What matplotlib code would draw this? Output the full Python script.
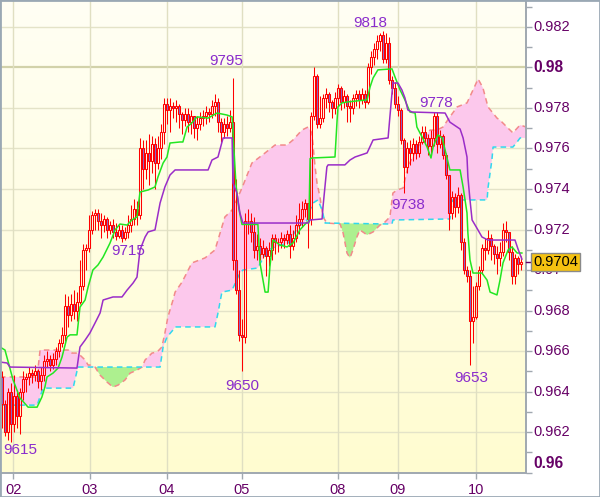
import numpy as np
import matplotlib
matplotlib.use("Agg")
import matplotlib.pyplot as plt
import matplotlib.transforms as mtrans
from matplotlib.colors import LinearSegmentedColormap
from matplotlib.patches import Rectangle

plt.rcParams['font.family'] = ['Liberation Sans', 'DejaVu Sans']
plt.rcParams['lines.scale_dashes'] = False

# ---------------- data (prices in pips: 9704 -> 0.9704) ----------------
day_labels = ["02", "03", "04", "05", "08", "09", "10"]
day_pos = [3.7, 29.3, 55, 80, 112, 132, 158]

first_open = 9647
close_pips = [9634, 9620, 9640, 9624, 9638, 9628, 9640, 9646, 9647, 9649,
              9648, 9650, 9645, 9648, 9655, 9656, 9653, 9656, 9660, 9664,
              9668, 9682, 9678, 9683, 9680, 9684, 9692, 9710, 9711, 9720,
              9727, 9728, 9724, 9722, 9725, 9720, 9722, 9719, 9717, 9720,
              9716, 9719, 9722, 9725, 9730, 9727, 9760, 9750, 9758, 9754,
              9762, 9753, 9760, 9768, 9782, 9779, 9781, 9780, 9781, 9777,
              9774, 9777, 9773, 9776, 9770, 9772, 9775, 9776, 9778, 9777,
              9781, 9783, 9773, 9768, 9772, 9770, 9773, 9705, 9690, 9668,
              9667, 9724, 9724, 9719, 9710, 9712, 9708, 9711, 9707, 9710,
              9716, 9714, 9714, 9716, 9715, 9718, 9712, 9716, 9722, 9725,
              9730, 9733, 9725, 9776, 9796, 9772, 9775, 9785, 9787, 9783,
              9780, 9785, 9790, 9783, 9786, 9781, 9780, 9785, 9787, 9784,
              9787, 9783, 9800, 9805, 9809, 9813, 9816, 9804, 9812, 9794,
              9790, 9782, 9779, 9764, 9751, 9760, 9758, 9762, 9758, 9763,
              9768, 9765, 9761, 9765, 9776, 9762, 9766, 9757, 9747, 9728,
              9736, 9731, 9737, 9714, 9700, 9697, 9675, 9677, 9692, 9700,
              9711, 9710, 9716, 9712, 9708, 9706, 9709, 9720, 9719, 9709,
              9697, 9706, 9703, 9704]
high_pips = [9650, 9636, 9642, 9644, 9648, 9641, 9642, 9650, 9649, 9652,
             9651, 9653, 9651, 9652, 9658, 9660, 9658, 9659, 9662, 9666,
             9672, 9688, 9687, 9688, 9690, 9689, 9705, 9713, 9713, 9727,
             9729, 9730, 9730, 9728, 9727, 9726, 9724, 9725, 9723, 9722,
             9722, 9721, 9727, 9732, 9735, 9734, 9765, 9764, 9764, 9767,
             9766, 9765, 9766, 9772, 9785, 9785, 9785, 9783, 9784, 9782,
             9778, 9780, 9780, 9779, 9776, 9776, 9778, 9779, 9781, 9780,
             9784, 9787, 9785, 9775, 9775, 9776, 9779, 9795, 9745, 9700,
             9676, 9728, 9730, 9728, 9726, 9718, 9716, 9715, 9712, 9714,
             9718, 9718, 9716, 9719, 9718, 9720, 9722, 9720, 9727, 9733,
             9734, 9735, 9732, 9778, 9800, 9797, 9786, 9787, 9790, 9788,
             9784, 9788, 9792, 9791, 9789, 9787, 9784, 9787, 9789, 9789,
             9790, 9789, 9802, 9808, 9812, 9816, 9817, 9818, 9817, 9815,
             9796, 9793, 9786, 9780, 9765, 9763, 9764, 9765, 9764, 9766,
             9771, 9771, 9767, 9769, 9778, 9778, 9769, 9767, 9758, 9740,
             9739, 9738, 9741, 9738, 9716, 9702, 9700, 9692, 9694, 9702,
             9713, 9716, 9720, 9718, 9713, 9712, 9714, 9723, 9724, 9718,
             9712, 9708, 9707, 9707]
low_pips = [9622, 9618, 9616, 9615, 9620, 9622, 9619, 9636, 9640, 9643,
            9644, 9645, 9642, 9641, 9645, 9652, 9650, 9651, 9653, 9657,
            9662, 9665, 9672, 9675, 9676, 9675, 9683, 9690, 9700, 9709,
            9718, 9720, 9720, 9716, 9719, 9716, 9718, 9716, 9715, 9716,
            9714, 9715, 9716, 9719, 9722, 9722, 9725, 9740, 9745, 9742,
            9748, 9740, 9750, 9755, 9762, 9772, 9768, 9775, 9773, 9770,
            9767, 9771, 9768, 9767, 9765, 9764, 9769, 9771, 9772, 9773,
            9775, 9776, 9768, 9763, 9765, 9766, 9768, 9700, 9688, 9665,
            9650, 9664, 9718, 9714, 9706, 9705, 9705, 9706, 9697, 9702,
            9705, 9708, 9709, 9711, 9711, 9713, 9706, 9710, 9714, 9718,
            9721, 9726, 9711, 9722, 9774, 9770, 9770, 9773, 9780, 9778,
            9775, 9777, 9781, 9779, 9780, 9773, 9773, 9777, 9781, 9780,
            9782, 9780, 9782, 9797, 9801, 9804, 9808, 9802, 9802, 9792,
            9787, 9780, 9776, 9762, 9738, 9748, 9752, 9754, 9755, 9756,
            9762, 9762, 9757, 9758, 9761, 9758, 9760, 9755, 9745, 9720,
            9725, 9726, 9728, 9710, 9698, 9694, 9653, 9664, 9676, 9690,
            9698, 9705, 9708, 9705, 9703, 9698, 9702, 9707, 9714, 9705,
            9693, 9693, 9698, 9700]

tenkan_pts = [(-0.7, 9662), (1, 9660.5), (3.7, 9645.7), (6, 9636.8), (8.7, 9632.3),
              (11.7, 9632.3), (13.3, 9637.3), (14.3, 9642.2), (15, 9647.2), (17, 9649.1),
              (18.7, 9651.6), (20, 9657), (21.7, 9666.9), (22.7, 9668), (25, 9668),
              (26, 9681.7), (27.7, 9685.2), (28.7, 9691.6), (30.3, 9700), (32, 9702.5),
              (33.7, 9706.4), (36, 9713.3), (37.7, 9719.8), (39.3, 9722.7), (41.7, 9722.2),
              (43.3, 9724.7), (45, 9726.2), (46, 9738.5), (48.7, 9739.5), (51, 9741),
              (52, 9746), (53.7, 9752.8), (55, 9755.8), (56, 9762.7), (59.3, 9763.2),
              (60.3, 9763.2), (61.7, 9770.6), (63.3, 9772.6), (65, 9775.6), (68.7, 9775),
              (71.7, 9777.5), (75, 9776.5), (76.7, 9775.6), (78, 9742), (79, 9730),
              (80, 9722.5), (85.3, 9722.5), (86, 9703.5), (87.7, 9689.1), (88.7, 9689.1),
              (89.3, 9701.5), (90.3, 9714.8), (92.7, 9712.3), (95, 9711.4), (97, 9713.3),
              (99.3, 9719.8), (101.7, 9723.7), (102.3, 9723.2), (102.7, 9755), (103.3, 9755.3),
              (111, 9755.8), (111.7, 9774), (112, 9780.5), (113.3, 9782.5), (115.3, 9783),
              (121.7, 9784), (122.7, 9790.4), (123.7, 9794.8), (125.3, 9798.8), (130, 9799.3),
              (131, 9795.3), (132.7, 9788.9), (134.3, 9784), (136, 9778), (137.7, 9777.5),
              (138.3, 9770.6), (140, 9765.7), (141.7, 9760.7), (143, 9755.3), (143.7, 9760.7),
              (145.3, 9766.7), (146.7, 9765.2), (147.7, 9759.3), (149.3, 9749.4), (152.7, 9749.4),
              (153.7, 9741), (155, 9728.2), (155.3, 9718.3), (156, 9705), (157, 9698.5),
              (160, 9698.5), (161.7, 9695), (162.7, 9689.1), (165, 9687.7), (166, 9695),
              (167, 9703.5), (168.7, 9709.9), (170, 9711.4), (171.7, 9708.4), (173.3, 9708.4)]

kijun_pts = [(-0.7, 9654.6), (1.7, 9654.1), (2.7, 9652.1), (25, 9651.6), (26, 9662),
             (27.7, 9665.4), (29.3, 9668.9), (31, 9673.8), (32.7, 9678.8), (33.7, 9685.2),
             (37, 9686.7), (40, 9686.7), (41.7, 9690.1), (43.7, 9693.6), (45, 9696.5),
             (46, 9709.9), (47.7, 9716.3), (48.7, 9718.8), (51, 9719.8), (52.7, 9733.1),
             (54.3, 9741), (56, 9746.9), (57.7, 9749.4), (68.7, 9749.4), (70, 9754.3),
             (72, 9755.8), (73.7, 9765.2), (76.7, 9765.2), (77, 9743), (78.3, 9738),
             (79.3, 9728.2), (80.3, 9723.2), (102, 9723.2), (102.7, 9724.7), (106.7, 9725.2),
             (107, 9731.1), (108.3, 9750.9), (108.7, 9751.9), (114.3, 9751.9), (116, 9754.3),
             (117.7, 9755.8), (121.7, 9757.8), (123.7, 9764.2), (128.7, 9765.2), (129.3, 9775.6),
             (130.3, 9792.3), (132, 9792.3), (133.3, 9788.9), (134.3, 9785), (135.3, 9779),
             (136.7, 9778), (147.7, 9777.5), (149.3, 9773), (152.7, 9769.6), (153.7, 9765.2),
             (155, 9755.8), (155.3, 9745.9), (156, 9734.6), (156.7, 9724.7), (158.3, 9720.7),
             (160, 9716.3), (162, 9714.8), (171, 9714.8), (172, 9710.4), (173.3, 9705.4)]

span_a_pts = [(-0.7, 9647.2), (11.7, 9647.2), (12.7, 9660.5), (22.7, 9660.5), (23.3, 9659),
              (25, 9659), (26, 9658), (27.7, 9655.6), (28.7, 9653.1), (29.3, 9653.1),
              (31, 9652.1), (32.7, 9648.1), (35, 9644.7), (37, 9642.2), (38.7, 9643.2),
              (41, 9645.7), (42.7, 9649.1), (45, 9650.6), (46.7, 9652.1), (47.7, 9655.6),
              (50, 9659), (51.7, 9659.5), (53.3, 9662), (54.3, 9668.9), (55.3, 9676.8),
              (57, 9685.2), (57.7, 9689.1), (60, 9694), (63.3, 9703.5), (67.7, 9706),
              (71, 9709.9), (72.7, 9718.3), (74.3, 9726.2), (76.7, 9729.6), (80, 9740.5),
              (83.3, 9752.8), (87.7, 9757.8), (91, 9761.7), (95, 9761.7), (97, 9764.2),
              (100, 9769.1), (102, 9770.6), (103.3, 9767.7), (104.3, 9751.9), (105, 9743),
              (106, 9736), (107, 9726.2), (108.3, 9723.2), (112.7, 9722.7), (113.7, 9718.3),
              (115, 9708.4), (116, 9706), (117, 9710), (118.3, 9716.3), (119.3, 9719.8),
              (121.7, 9717.3), (123.7, 9718.8), (126, 9722.2), (127, 9722.7), (129.3, 9726.2),
              (130.3, 9738), (131.7, 9739.5), (133.7, 9740.5), (135.3, 9751), (138.3, 9760.2),
              (140.3, 9764.2), (142.7, 9769.1), (145, 9769.1), (147, 9770.6), (149.3, 9775.6),
              (151.7, 9780.5), (155, 9782.5), (156.7, 9787.9), (158.7, 9794.3), (160.3, 9790),
              (162, 9780.5), (165, 9775), (166, 9774), (168.3, 9770.6), (170.3, 9767.7),
              (172.7, 9771.6), (174.7, 9770.6)]

span_b_pts = [(-0.7, 9633.3), (11.7, 9633.3), (13.7, 9641.7), (23.7, 9641.7), (25.3, 9652.1),
              (52.7, 9652.1), (53.7, 9662), (55, 9666.9), (57, 9670.4), (57.7, 9671.9),
              (71, 9671.9), (72, 9678.8), (73.3, 9689.1), (76.7, 9690.1), (79.3, 9698.5),
              (80.3, 9700), (85.3, 9701), (86.7, 9705), (88.7, 9709.9), (91, 9711.4),
              (95.3, 9713.3), (98.7, 9721.2), (101.7, 9724.7), (102.7, 9729.6), (103.7, 9733.1),
              (105.3, 9734.6), (106.7, 9729.6), (107.7, 9723.2), (130, 9722.7), (130.3, 9724.7),
              (149.3, 9725.2), (150, 9733.6), (150.3, 9734.6), (161.7, 9734.6), (162, 9740.5),
              (163.3, 9754.3), (163.7, 9760.7), (170.3, 9760.7), (171.7, 9763.2), (172.7, 9765.2),
              (174.7, 9765.2)]

extreme_labels = ["9615", "9715", "9795", "9650", "9818", "9778", "9738", "9653"]
extreme_text_pos = [(6, 9611), (42, 9709.4), (74.7, 9803.2), (80, 9642.7),
                    (122.7, 9822), (144.7, 9782.5), (135.3, 9732.1), (156.3, 9646.7)]

last_price_label = "0.9704"
last_price_pips = 9704
y_tick_pips = list(range(9600, 9821, 20))
y_tick_labels = ["0.96", "0.962", "0.964", "0.966", "0.968", "0.97", "0.972",
                 "0.974", "0.976", "0.978", "0.98", "0.982"]

# ---------------- figure ----------------
fig = plt.figure(figsize=(6, 4.97), dpi=100)
fig.patch.set_facecolor('white')
ax = fig.add_axes([1 / 600, 24 / 497, 525 / 600, 472 / 497])

grad = np.linspace(0, 1, 256).reshape(-1, 1)
cmap = LinearSegmentedColormap.from_list('bg', ['#fffcd0', '#fffff4'])
ax.imshow(grad, extent=(0, 1, 0, 1), transform=ax.transAxes, aspect='auto',
          cmap=cmap, origin='lower', zorder=0, interpolation='bilinear')

# grid
for p in y_tick_pips[1:]:
    major = p in (9800, 9600)
    ax.axhline(p, color='#d2d2aa' if major else '#e4e3c8',
               lw=1.6 if major else 1.0, zorder=1)
for d in day_pos:
    ax.axvline(d, color='#e0dfc2', lw=1.0, zorder=1)

# cloud
ax_x = np.array([p[0] for p in span_a_pts]); ay = np.array([p[1] for p in span_a_pts])
bx_x = np.array([p[0] for p in span_b_pts]); by = np.array([p[1] for p in span_b_pts])
xs = np.union1d(ax_x, bx_x)
ya = np.interp(xs, ax_x, ay)
yb = np.interp(xs, bx_x, by)
ax.fill_between(xs, ya, yb, where=ya >= yb, interpolate=True, color='#fcc8ec', lw=0, zorder=2)
ax.fill_between(xs, ya, yb, where=ya < yb, interpolate=True, color='#adf08f', lw=0, zorder=2)
la, = ax.plot(ax_x, ay, color='#f28a8a', lw=1.1, zorder=2.5)
la.set_dashes([4, 3])
lb, = ax.plot(bx_x, by, color='#30d8ee', lw=1.1, zorder=2.5)
lb.set_dashes([4, 3])

# candles
c = np.array(close_pips, dtype=float)
o = np.concatenate([[first_open], c[:-1]])
h = np.array(high_pips, dtype=float)
l = np.array(low_pips, dtype=float)
idx = np.arange(len(c))
top = np.maximum(o, c)
bot = np.minimum(o, c)
h = np.maximum(h, top)
l = np.minimum(l, bot)
ax.vlines(idx, top, h, colors='#ff0000', lw=0.75, zorder=3)
ax.vlines(idx, l, bot, colors='#ff0000', lw=0.75, zorder=3)
up = c >= o
ax.bar(idx[up], (top - bot)[up], bottom=bot[up], width=0.75, facecolor='none',
       edgecolor='#ff0000', linewidth=0.75, zorder=3)
ax.bar(idx[~up], (top - bot)[~up], bottom=bot[~up], width=0.75, facecolor='#8866cc',
       edgecolor='#ff0000', linewidth=0.75, zorder=3)

# tenkan / kijun
ax.plot([p[0] for p in tenkan_pts], [p[1] for p in tenkan_pts], color='#22e622', lw=1.1, zorder=4)
ax.plot([p[0] for p in kijun_pts], [p[1] for p in kijun_pts], color='#9a2dc8', lw=1.1, zorder=4)

# extreme labels
for lab, (xp, yp) in zip(extreme_labels, extreme_text_pos):
    ax.text(xp, yp, lab, ha='center', va='center', color='#8a2ccc', fontsize=11, zorder=6)

ax.set_xlim(-0.33, 174.67)
ax.set_ylim(9599.8, 9832.8)

# axes styling
for s in ('left', 'top'):
    ax.spines[s].set_visible(False)
for s in ('right', 'bottom'):
    ax.spines[s].set_color('#a0a8b0')
    ax.spines[s].set_linewidth(1.4)
    ax.spines[s].set_zorder(7)

ax.yaxis.tick_right()
ax.set_yticks(y_tick_pips)
ax.set_yticks(list(range(9610, 9831, 20)), minor=True)
ax.set_yticklabels([])
ax.tick_params(axis='y', which='both', direction='out', length=4, width=1, color='#a0a8b0')

ax.set_xticks(day_pos)
ax.set_xticklabels(day_labels)
ax.tick_params(axis='x', direction='out', length=4, width=1, color='#a0a8b0',
               labelcolor='#660066', labelsize=10.5, pad=3)

blend = mtrans.blended_transform_factory(ax.transAxes, ax.transData)
for p, lab in zip(y_tick_pips, y_tick_labels):
    bold = lab in ('0.98', '0.96')
    yy = p + 4.7 if lab == '0.96' else p
    ax.text(1.0133, yy, lab, transform=blend, ha='left', va='center',
            fontsize=11.2 if bold else 10.5, fontweight='bold' if bold else 'normal',
            color='#660066', clip_on=False)

ax.plot([1.0, 1.012], [last_price_pips, last_price_pips], transform=blend,
        color='#660066', lw=1, clip_on=False, zorder=9)
ax.text(1.0133, last_price_pips, last_price_label, transform=blend, ha='left', va='center',
        fontsize=10.5, color='black', clip_on=False, zorder=10,
        bbox=dict(boxstyle='square,pad=0.15', fc='#f5c211', ec='#8a8a8a', lw=1))

fig.patches.append(Rectangle((0, 0), 1, 1, transform=fig.transFigure, fill=False,
                             edgecolor='#9aa8b4', lw=2, zorder=20))

fig.savefig('out.png', dpi=100)
